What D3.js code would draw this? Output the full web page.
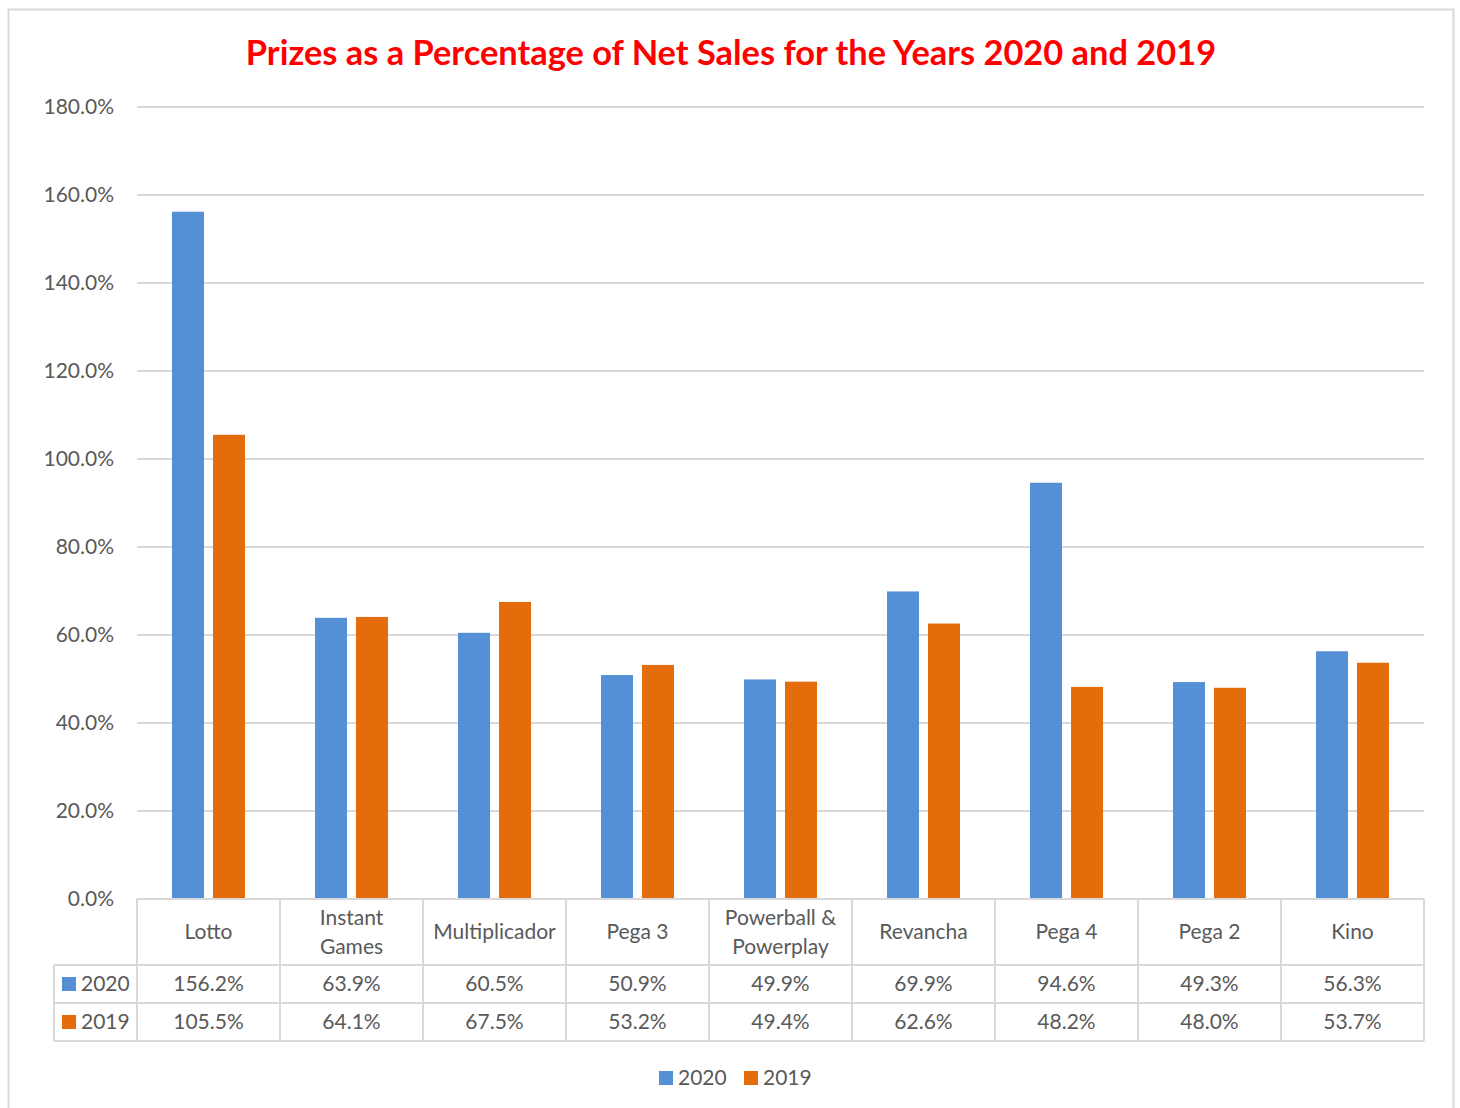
<!DOCTYPE html>
<html><head><meta charset="utf-8">
<script src="https://cdn.jsdelivr.net/npm/d3@7"></script>
<style>body{margin:0;background:#fff}svg{display:block}text{font-family:Lato,"Open Sans",sans-serif}</style>
</head><body>
<svg id="c" width="1460" height="1108"></svg>
<script>
const categories = ["Lotto","Instant Games","Multiplicador","Pega 3","Powerball & Powerplay","Revancha","Pega 4","Pega 2","Kino"];
const categoryLines = [["Lotto"],["Instant","Games"],["Multiplicador"],["Pega 3"],["Powerball &","Powerplay"],["Revancha"],["Pega 4"],["Pega 2"],["Kino"]];
const seriesNames = ["2020","2019"];
const values2020 = [156.2,63.9,60.5,50.9,49.9,69.9,94.6,49.3,56.3];
const values2019 = [105.5,64.1,67.5,53.2,49.4,62.6,48.2,48.0,53.7];
const yTicks = [0,20,40,60,80,100,120,140,160,180];
const title = "Prizes as a Percentage of Net Sales for the Years 2020 and 2019";

const colors = {"2020":"#5590D6","2019":"#E46C0A"};
const seriesValues = {"2020":values2020,"2019":values2019};
const svg = d3.select("#c");
const L=137,R=1424,T=107,B=899;
const FS=21;

svg.append("rect").attr("x",8.5).attr("y",9.5).attr("width",1445).attr("height",1110).attr("fill","#fff").attr("stroke","#d9d9d9").attr("stroke-width",2);

svg.append("text").attr("x",731).attr("y",65).attr("text-anchor","middle").attr("fill","#FF0000").attr("font-weight","bold").attr("font-size",34.4).text(title);

const x = d3.scaleBand().domain(categories).range([L,R]);
const y = d3.scaleLinear().domain([0,180]).range([B,T]);

// grid
svg.append("g").selectAll("line").data(yTicks.filter(d=>d>0)).join("line")
 .attr("x1",L).attr("x2",R).attr("y1",d=>y(d)).attr("y2",d=>y(d)).attr("stroke","#d9d9d9").attr("stroke-width",2);

const yAxis = d3.axisLeft(y).tickValues(yTicks).tickFormat(d=>d.toFixed(1)+"%").tickSize(0).tickPadding(23);
const ga = svg.append("g").attr("transform",`translate(${L},0)`).call(yAxis);
ga.select(".domain").remove();
ga.selectAll("text").attr("font-size",FS).attr("fill","#595959").attr("font-family","Lato");

const xs = d3.scaleBand().domain(seriesNames).range([0,73]).paddingInner(0.22);
const bw = x.bandwidth();
seriesNames.forEach(s=>{
  svg.append("g").selectAll("rect").data(categories).join("rect")
   .attr("x",(d)=>x(d)+bw/2-36.5+xs(s))
   .attr("width",xs.bandwidth())
   .attr("y",(d,i)=>y(seriesValues[s][i]))
   .attr("height",(d,i)=>B-y(seriesValues[s][i]))
   .attr("fill",colors[s]);
});

// table
const rowY=[899,965,1003,1041];
const tg = svg.append("g").attr("stroke","#d9d9d9").attr("stroke-width",2).attr("fill","none");
tg.append("line").attr("x1",L).attr("x2",R).attr("y1",rowY[0]).attr("y2",rowY[0]);
[1,2,3].forEach(i=>tg.append("line").attr("x1",54).attr("x2",R).attr("y1",rowY[i]).attr("y2",rowY[i]));
categories.forEach(c=>tg.append("line").attr("x1",x(c)).attr("x2",x(c)).attr("y1",rowY[0]).attr("y2",rowY[3]));
tg.append("line").attr("x1",R).attr("x2",R).attr("y1",rowY[0]).attr("y2",rowY[3]);
tg.append("line").attr("x1",54).attr("x2",54).attr("y1",rowY[1]).attr("y2",rowY[3]);

categories.forEach((c,i)=>{
  const lines = categoryLines[i];
  const cy = 932;
  lines.forEach((ln,j)=>{
    svg.append("text").attr("x",x(c)+bw/2).attr("y",cy+(j-(lines.length-1)/2)*29+7)
     .attr("text-anchor","middle").attr("font-size",FS).attr("fill","#595959").text(ln);
  });
});
seriesNames.forEach((s,k)=>{
  const cy=(rowY[k+1]+rowY[k+2])/2;
  svg.append("rect").attr("x",62).attr("y",cy-7).attr("width",14).attr("height",14).attr("fill",colors[s]);
  svg.append("text").attr("x",81).attr("y",cy+7).attr("font-size",FS).attr("fill","#595959").text(s);
  categories.forEach((c,i)=>{
    svg.append("text").attr("x",x(c)+bw/2).attr("y",cy+7).attr("text-anchor","middle")
     .attr("font-size",FS).attr("fill","#595959").text(seriesValues[s][i].toFixed(1)+"%");
  });
});

// legend
const lg = svg.append("g");
const legX=[659,744];
seriesNames.forEach((s,k)=>{
  lg.append("rect").attr("x",legX[k]).attr("y",1071).attr("width",14).attr("height",14).attr("fill",colors[s]);
  lg.append("text").attr("x",legX[k]+19).attr("y",1085).attr("font-size",FS).attr("fill","#595959").text(s);
});
</script>
</body></html>
